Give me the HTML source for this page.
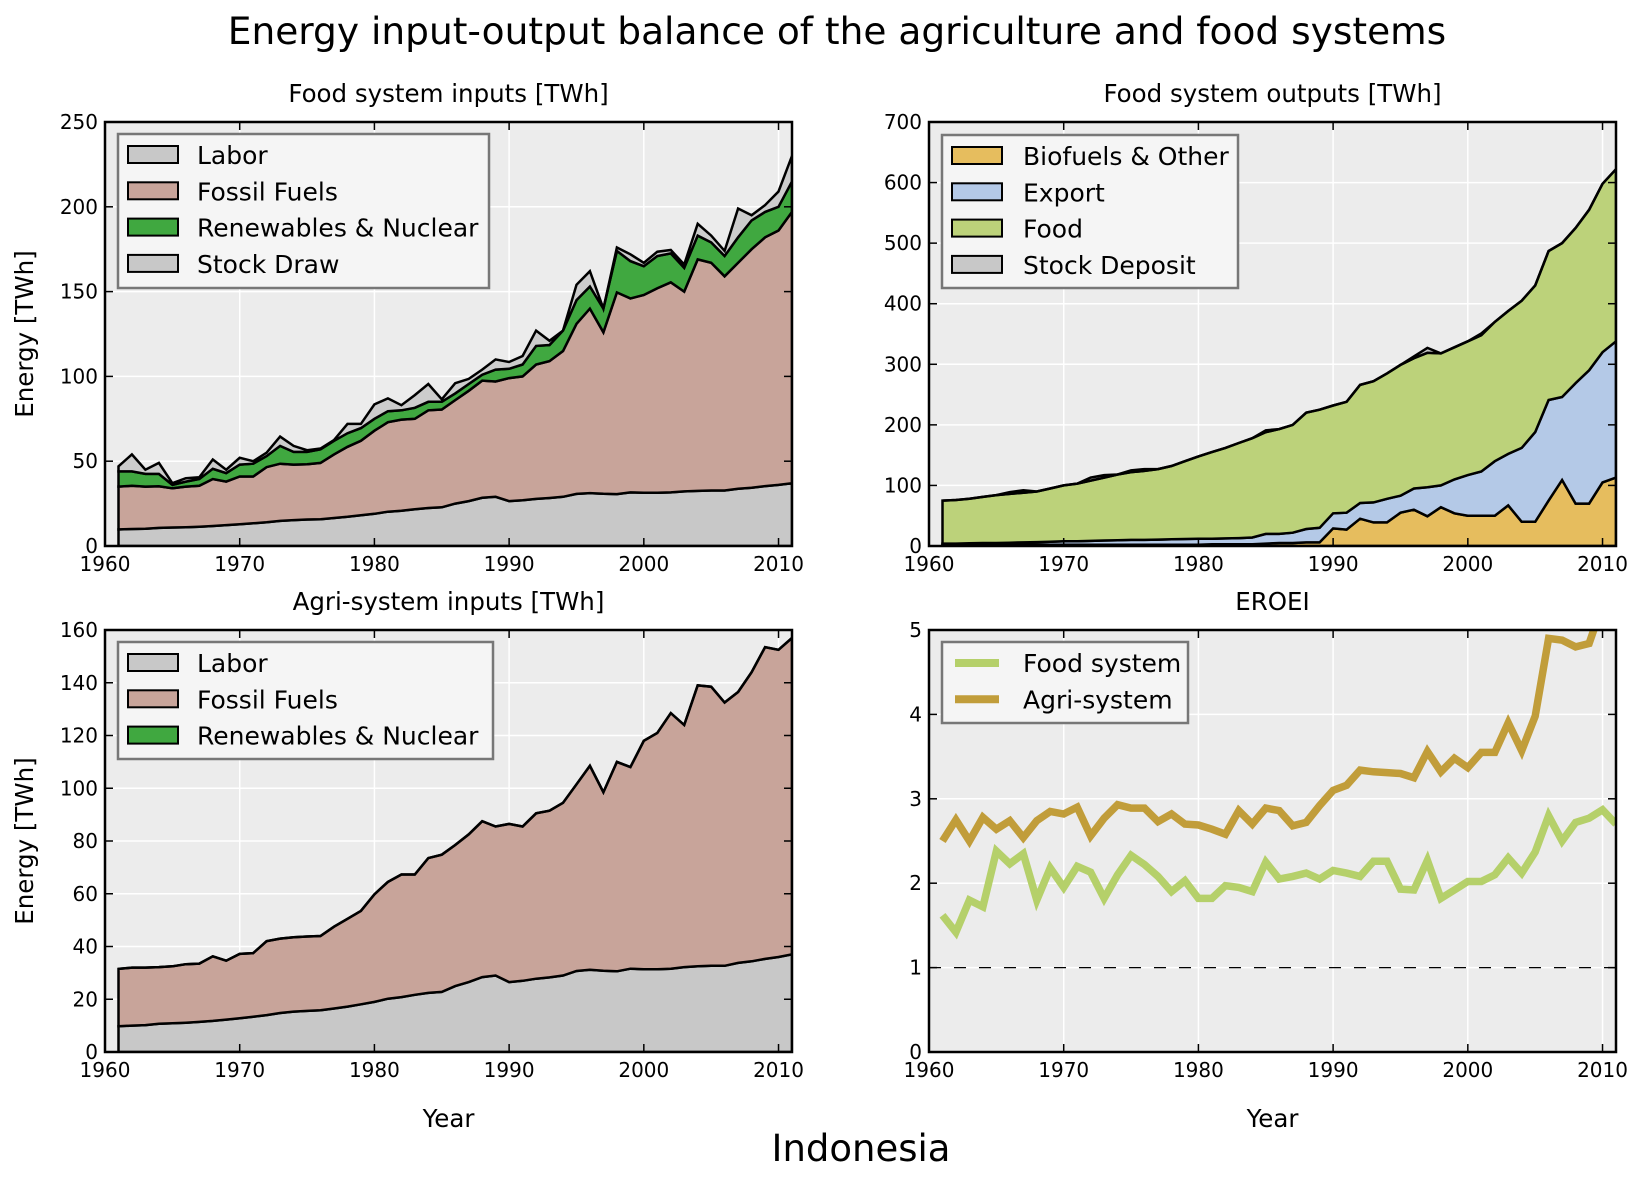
<!DOCTYPE html>
<html><head><meta charset="utf-8"><style>
body{margin:0;background:#fff;}
svg{display:block;font-family:"DejaVu Sans","Liberation Sans",sans-serif;}
</style></head><body>
<svg id="fig" width="1642" height="1181" viewBox="0 0 1642 1181" xmlns="http://www.w3.org/2000/svg">
<text x="837" y="44" font-size="37.5" text-anchor="middle">Energy input-output balance of the agriculture and food systems</text>
<text x="861" y="1161" font-size="37" text-anchor="middle">Indonesia</text>
</svg>
<script>
const years = [];
for (let y = 1961; y <= 2011; y++) years.push(y);

const laborVals = [9.8,10,10.2,10.7,10.9,11.1,11.4,11.8,12.3,12.8,13.4,14,14.8,15.3,15.6,15.8,16.5,17.2,18.1,19,20.2,20.8,21.7,22.4,22.8,25,26.5,28.4,29,26.5,27,27.8,28.3,29,30.7,31.2,30.8,30.6,31.6,31.4,31.4,31.6,32.2,32.5,32.7,32.7,33.8,34.4,35.3,36,37];
const foodFossilTop = [35,35.5,35,35.2,34,35,35.5,39.5,38,41,41,46.5,48.5,48,48.2,49,54,58.5,62,68,73,74.5,75,80,80.5,86,91.5,97.5,97,99,100,107,109,115,131,140,126,149.5,146,148,152,155.5,150,169,167,159,167,175,182,186,197];
const foodRenewTop = [44,44,42.5,42.5,36,38,39.5,45.5,43,48,48.5,53,59,55.5,55.5,57,62,66.5,69.5,75,79.5,80,81.5,85,85,90,95.5,101,104,104.5,107,118,118.5,127,145,153,140,174,168,165,171,172.5,164,183,179,171,182,192,197,200,215];
const foodStockTop = [47,54,45,49,37,40,40.5,51,45,52,50,55,64.5,59,56.5,57.5,62.5,72,72,83.5,87,83,89,95.5,86.5,96,98.5,104,110,108.5,112,127,121,127,154,162,140,176,172,167,173.5,174.5,166,190,183,174,199,195,201,209,230];
const agriTotal = [31.5,32,32,32.2,32.5,33.3,33.5,36.3,34.6,37.2,37.5,42,43,43.5,43.8,44,47.5,50.5,53.5,59.8,64.5,67.3,67.3,73.5,74.8,78.5,82.5,87.5,85.5,86.5,85.5,90.5,91.5,94.5,101.5,108.5,98.5,110,108,118,121,128.5,124,139,138.5,132.5,136.5,144,153.5,152.5,157];
const biofuelVals = [2,2,2,2,2,2,2,2,2,2,2,2,2,2,2,2,2,2,2,2,3,3,3,3,4,5,5,6,6,29,27,45,39,39,55,60,49,64,54,50,50,50,67,40,40,75,109,70,70,105,113];
const exportTop = [4,4,4.5,5,5,5.5,6,6.5,7,8,8,8.5,9,9.5,10,10,10.5,11,11.5,12,12,12.5,13,14,20,20,22,28,30,54,55,71,72,78,83,95,97,100,110,117,123,140,152,162,188,241,246,269,290,320,338];
const foodOutTop = [75,76,78,81,84,86,88,90,95,100,103,108,113,118,122,124,127,132,140,148,155,162,170,178,188,193,200,220,225,232,238,266,272,285,299,310,319,318,328,338,348,370,388,405,430,487,500,525,555,598,622];
const stockDeposit = [0,0,0,0,0,3,4,0,0,0,0,5,4,0,3,3,0,0,0,0,0,0,0,0,3,0,0,0,0,0,0,0,0,0,0,3,8,0,0,0,3,0,0,0,0,0,0,0,0,0,0];
const eroeiFood = [1.62,1.42,1.8,1.72,2.38,2.23,2.35,1.8,2.18,1.95,2.2,2.13,1.82,2.1,2.33,2.22,2.08,1.9,2.03,1.82,1.82,1.97,1.95,1.9,2.25,2.05,2.08,2.12,2.05,2.15,2.12,2.08,2.26,2.26,1.93,1.92,2.27,1.82,1.92,2.02,2.02,2.1,2.3,2.12,2.37,2.8,2.5,2.72,2.77,2.87,2.7];
const eroeiAgri = [2.5,2.75,2.5,2.78,2.64,2.74,2.54,2.74,2.85,2.82,2.9,2.56,2.77,2.93,2.89,2.89,2.73,2.82,2.7,2.69,2.64,2.58,2.86,2.7,2.89,2.86,2.68,2.72,2.92,3.1,3.16,3.34,3.32,3.31,3.3,3.25,3.56,3.32,3.48,3.37,3.55,3.55,3.9,3.57,3.98,4.9,4.88,4.8,4.84,5.3,5.6];
const xTicks = [1960,1970,1980,1990,2000,2010];
const yTicks1 = [0,50,100,150,200,250];
const yTicks2 = [0,100,200,300,400,500,600,700];
const yTicks3 = [0,20,40,60,80,100,120,140,160];
const yTicks4 = [0,1,2,3,4,5];

const NS = "http://www.w3.org/2000/svg";
const svg = document.getElementById('fig');
function mk(tag, attrs, parent) {
  const e = document.createElementNS(NS, tag);
  for (const k in attrs) e.setAttribute(k, attrs[k]);
  (parent || svg).appendChild(e);
  return e;
}

function makePanel(p) {
  const g = mk('g', {});
  
  
  const sx = v => p.x0 + (v - 1960) / 51 * (p.x1 - p.x0);
  const sy = v => p.y1 - v / p.ymax * (p.y1 - p.y0);
  const bg = mk('rect', {x: p.x0, y: p.y0, width: p.x1 - p.x0, height: p.y1 - p.y0, fill: '#ececec'}, g);
  
  
  const clipId = 'clip-' + p.name;
  const cp = mk('clipPath', {id: clipId}, g);
  mk('rect', {x: p.x0, y: p.y0, width: p.x1 - p.x0, height: p.y1 - p.y0}, cp);
  xTicks.forEach(t => {
    const gl = mk('line', {x1: sx(t), x2: sx(t), y1: p.y0, y2: p.y1, stroke: '#fff', 'stroke-width': 1.5}, g);
    
    
  });
  p.yTicks.forEach(t => {
    const gl = mk('line', {x1: p.x0, x2: p.x1, y1: sy(t), y2: sy(t), stroke: '#fff', 'stroke-width': 1.5}, g);
    
    
  });
  const data = mk('g', {'clip-path': 'url(#' + clipId + ')'}, g);
  
  
  p.draw(data, sx, sy);
  const frame = mk('rect', {x: p.x0, y: p.y0, width: p.x1 - p.x0, height: p.y1 - p.y0, fill: 'none', stroke: '#000', 'stroke-width': 2.5}, g);
  
  
  xTicks.forEach(t => {
    mk('line', {x1: sx(t), x2: sx(t), y1: p.y1, y2: p.y1 - 8, stroke: '#000', 'stroke-width': 1.5}, g);
    mk('line', {x1: sx(t), x2: sx(t), y1: p.y0, y2: p.y0 + 8, stroke: '#000', 'stroke-width': 1.5}, g);
    const tl = mk('text', {x: sx(t), y: p.y1 + 25, 'font-size': 20, 'text-anchor': 'middle'}, g);
    tl.textContent = t;
    
    
  });
  p.yTicks.forEach(t => {
    mk('line', {x1: p.x0, x2: p.x0 + 8, y1: sy(t), y2: sy(t), stroke: '#000', 'stroke-width': 1.5}, g);
    mk('line', {x1: p.x1, x2: p.x1 - 8, y1: sy(t), y2: sy(t), stroke: '#000', 'stroke-width': 1.5}, g);
    const tl = mk('text', {x: p.x0 - 7, y: sy(t) + 7, 'font-size': 20, 'text-anchor': 'end'}, g);
    tl.textContent = t;
    
    
  });
  const title = mk('text', {x: (p.x0 + p.x1) / 2, y: p.y0 - 20, 'font-size': 24.5, 'text-anchor': 'middle'}, g);
  title.textContent = p.title;
  
  
  if (p.ylabel) {
    const cy = (p.y0 + p.y1) / 2;
    const yl = mk('text', {x: 33, y: cy, 'font-size': 24.5, 'text-anchor': 'middle', transform: 'rotate(-90 33 ' + cy + ')'}, g);
    yl.textContent = p.ylabel;
    
    
  }
  if (p.xlabel) {
    const xl = mk('text', {x: (p.x0 + p.x1) / 2, y: 1127, 'font-size': 24.5, 'text-anchor': 'middle'}, g);
    xl.textContent = p.xlabel;
    
    
  }
  const lg = mk('g', {}, g);
  
  
  const L = p.legend;
  mk('rect', {x: L.x, y: L.y, width: L.w, height: L.h, fill: '#f5f5f5', stroke: '#777', 'stroke-width': 2.5}, lg);
  L.items.forEach((it, i) => {
    const cy = L.y + 21 + i * 36.3;
    const eg = mk('g', {}, lg);
    
    
    if (it.line) {
      mk('line', {x1: L.x + 13, x2: L.x + 57, y1: cy, y2: cy, stroke: it.color, 'stroke-width': 8}, eg);
    } else {
      mk('rect', {x: L.x + 10, y: cy - 9, width: 50, height: 17, fill: it.color, stroke: '#000', 'stroke-width': 2}, eg);
    }
    const tx = mk('text', {x: L.x + L.tx, y: cy + 9, 'font-size': 25}, eg);
    tx.textContent = it.label;
  });
}

function stackDraw(layers) {
  return (g, sx, sy) => {
    let base = years.map(() => 0);
    layers.forEach(ly => {
      const top = base.map((b, i) => b + ly.vals[i]);
      let d = '';
      years.forEach((yr, i) => d += (i ? 'L' : 'M') + sx(yr).toFixed(1) + ',' + sy(top[i]).toFixed(1));
      for (let i = years.length - 1; i >= 0; i--) d += 'L' + sx(years[i]).toFixed(1) + ',' + sy(base[i]).toFixed(1);
      d += 'Z';
      const path = mk('path', {d: d, fill: ly.color, stroke: '#000', 'stroke-width': 2.5, 'stroke-linejoin': 'miter'}, g);
      
      
      base = top;
    });
  };
}

const diff = (a, b) => a.map((v, i) => Math.max(0, v - b[i]));

makePanel({name: 'food-inputs-panel', x0: 105, x1: 792, y0: 122, y1: 546, ymax: 250, yTicks: yTicks1,
  title: 'Food system inputs [TWh]', ylabel: 'Energy [TWh]',
  legend: {x: 118, y: 134, w: 371, h: 154, tx: 79, items: [
    {label: 'Labor', color: '#c8c8c8'}, {label: 'Fossil Fuels', color: '#c8a49a'},
    {label: 'Renewables & Nuclear', color: '#40a840'}, {label: 'Stock Draw', color: '#c8c8c8'}]},
  draw: stackDraw([
    {name: 'labor-area', color: '#c8c8c8', vals: laborVals},
    {name: 'fossil-area', color: '#c8a49a', vals: diff(foodFossilTop, laborVals)},
    {name: 'renewables-area', color: '#40a840', vals: diff(foodRenewTop, foodFossilTop)},
    {name: 'stock-draw-area', color: '#cccccc', vals: diff(foodStockTop, foodRenewTop)}])
});

makePanel({name: 'food-outputs-panel', x0: 929, x1: 1616, y0: 122, y1: 546, ymax: 700, yTicks: yTicks2,
  title: 'Food system outputs [TWh]',
  legend: {x: 942, y: 135, w: 296, h: 153, tx: 81, items: [
    {label: 'Biofuels & Other', color: '#e6bd5e'}, {label: 'Export', color: '#b4c9e7'},
    {label: 'Food', color: '#bcd27a'}, {label: 'Stock Deposit', color: '#c8c8c8'}]},
  draw: stackDraw([
    {name: 'biofuels-area', color: '#e6bd5e', vals: biofuelVals},
    {name: 'export-area', color: '#b4c9e7', vals: diff(exportTop, biofuelVals)},
    {name: 'food-area', color: '#bcd27a', vals: diff(foodOutTop, exportTop)},
    {name: 'stock-deposit-area', color: '#c8c8c8', vals: stockDeposit}])
});

makePanel({name: 'agri-inputs-panel', x0: 105, x1: 792, y0: 630, y1: 1052, ymax: 160, yTicks: yTicks3,
  title: 'Agri-system inputs [TWh]', ylabel: 'Energy [TWh]', xlabel: 'Year',
  legend: {x: 118, y: 642, w: 375, h: 117, tx: 79, items: [
    {label: 'Labor', color: '#c8c8c8'}, {label: 'Fossil Fuels', color: '#c8a49a'},
    {label: 'Renewables & Nuclear', color: '#40a840'}]},
  draw: stackDraw([
    {name: 'labor-area', color: '#c8c8c8', vals: laborVals},
    {name: 'fossil-area', color: '#c8a49a', vals: diff(agriTotal, laborVals)},
    {name: 'renewables-area', color: '#40a840', vals: years.map(() => 0)}])
});

makePanel({name: 'eroei-panel', x0: 929, x1: 1616, y0: 630, y1: 1052, ymax: 5, yTicks: yTicks4,
  title: 'EROEI', xlabel: 'Year',
  legend: {x: 942, y: 642, w: 246, h: 81, tx: 81, items: [
    {label: 'Food system', color: '#b5d06a', line: true}, {label: 'Agri-system', color: '#c19d3a', line: true}]},
  draw: (g, sx, sy) => {
    const ref = mk('line', {x1: sx(1960), x2: sx(2011), y1: sy(1), y2: sy(1), stroke: '#000', 'stroke-width': 1.2, 'stroke-dasharray': '12 13'}, g);
    
    
    [[eroeiFood, '#b5d06a', 'food-system-line'], [eroeiAgri, '#c19d3a', 'agri-system-line']].forEach(s => {
      const pts = years.map((yr, i) => sx(yr).toFixed(1) + ',' + sy(s[0][i]).toFixed(1)).join(' ');
      const pl = mk('polyline', {points: pts, fill: 'none', stroke: s[1], 'stroke-width': 7.5, 'stroke-linejoin': 'miter'}, g);
      
      
    });
  }
});
</script>
</body></html>
